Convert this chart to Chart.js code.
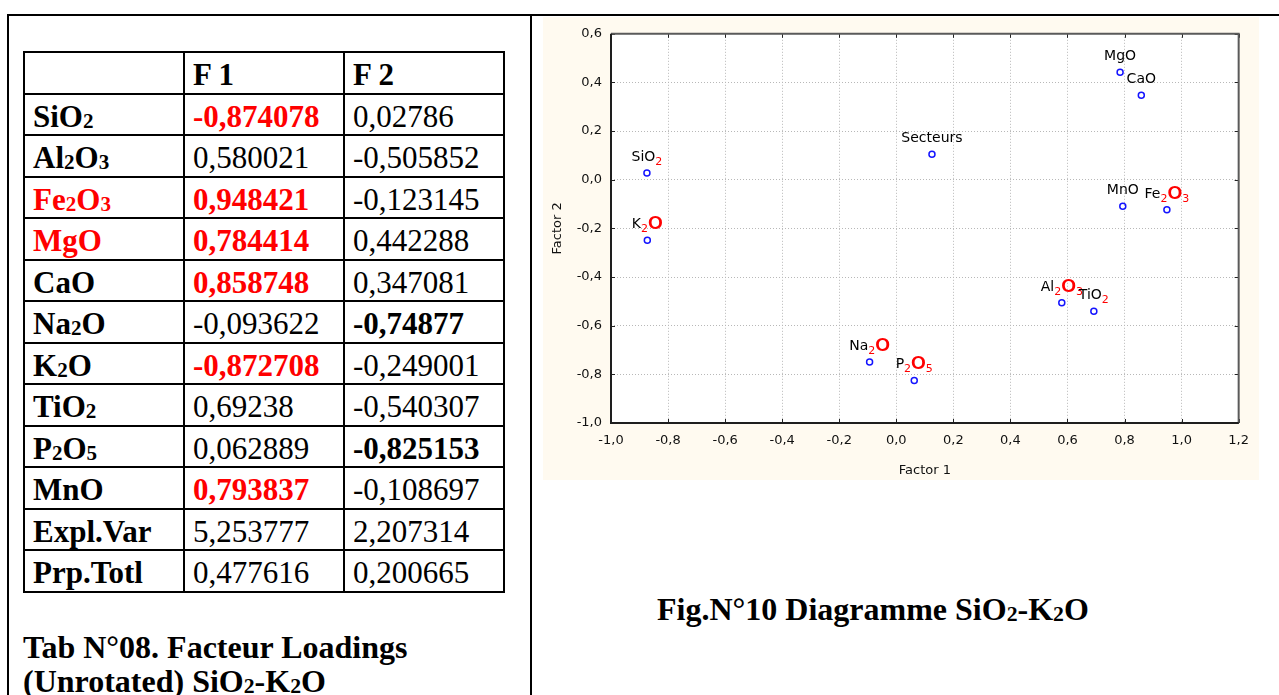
<!DOCTYPE html>
<html>
<head>
<meta charset="utf-8">
<script src="https://cdn.jsdelivr.net/npm/chart.js@4.4.0/dist/chart.umd.min.js"></script>
<style>
  html, body { margin: 0; padding: 0; background: #fff; width: 1279px; height: 695px; overflow: hidden; }
  .rule { position: absolute; background: #000; }
  #loadings {
    position: absolute; left: 23px; top: 51px;
    border-collapse: separate; border-spacing: 0; table-layout: fixed;
    border-top: 2px solid #000; border-left: 2px solid #000;
    font-family: "Liberation Serif", "Times New Roman", serif; font-size: 31px; color: #000;
  }
  #loadings td {
    box-sizing: border-box; width: 160px; height: 41.5px;
    border-right: 2px solid #000; border-bottom: 2px solid #000;
    padding: 5px 0 0 8px; line-height: 1.1; white-space: nowrap; vertical-align: middle;
  }
  #loadings td.name, #loadings td.head { font-weight: bold; }
  .b { font-weight: bold; }
  .r { color: #ff0000; }
  .sub { font-size: 0.68em; vertical-align: -0.06em; }
  .caption {
    position: absolute; font-family: "Liberation Serif", "Times New Roman", serif;
    font-weight: bold; font-size: 32px; line-height: 34px; color: #000; white-space: nowrap;
  }
  #plotBox { position: absolute; left: 543px; top: 17px; width: 716px; height: 463px; background: #FFFAF0; }
  #plotBox canvas { display: block; }
</style>
</head>
<body>
<div class="rule" style="left:7px;top:14px;width:1290px;height:2px"></div>
<div class="rule" style="left:7px;top:14px;width:2px;height:700px"></div>
<div class="rule" style="left:530px;top:14px;width:2px;height:700px"></div>

<table id="loadings"></table>
<div class="caption" style="left:23px;top:630px">Tab N°08. Facteur Loadings<br>(Unrotated) SiO<span class="sub">2</span>-K<span class="sub">2</span>O</div>

<div id="plotBox"><canvas id="chart" width="716" height="463"></canvas></div>
<div class="caption" style="left:657px;top:592px">Fig.N°10 Diagramme SiO<span class="sub">2</span>-K<span class="sub">2</span>O</div>

<script>
// Factor loadings (unrotated) of the major oxides
const oxides  = ['SiO2', 'Al2O3', 'Fe2O3', 'MgO', 'CaO', 'Na2O', 'K2O', 'TiO2', 'P2O5', 'MnO'];
const factor1 = [-0.874078, 0.580021, 0.948421, 0.784414, 0.858748, -0.093622, -0.872708, 0.69238, 0.062889, 0.793837];
const factor2 = [0.02786, -0.505852, -0.123145, 0.442288, 0.347081, -0.74877, -0.249001, -0.540307, -0.825153, -0.108697];
const explVar = [5.253777, 2.207314];
const prpTotl = [0.477616, 0.200665];
const headers = ['', 'F 1', 'F 2'];

// Supplementary variable projected on the factor plane
const sectorName = 'Secteurs';
const sectorF1 = 0.125;
const sectorF2 = 0.105;

// Axis tick values
const xTicks = [-1.0, -0.8, -0.6, -0.4, -0.2, 0.0, 0.2, 0.4, 0.6, 0.8, 1.0, 1.2];
const yTicks = [-1.0, -0.8, -0.6, -0.4, -0.2, 0.0, 0.2, 0.4, 0.6];

// Emphasis in the table
const strongF1 = ['SiO2', 'Fe2O3', 'MgO', 'CaO', 'K2O', 'MnO'];
const strongF2 = ['Na2O', 'P2O5'];
const strongNames = ['Fe2O3', 'MgO'];

const fmt = v => String(v).replace('.', ',');
const chem = name => name.replace(/(\d)/g, '<span class="sub">$1</span>');

// ---- table ----
(function buildTable() {
  const t = document.getElementById('loadings');
  let html = '<tr>' + headers.map(h => `<td class="head">${h}</td>`).join('') + '</tr>';
  oxides.forEach((ox, i) => {
    const nameCls = strongNames.includes(ox) ? 'name r' : 'name';
    const c1 = strongF1.includes(ox) ? 'b r' : '';
    const c2 = strongF2.includes(ox) ? 'b' : '';
    html += `<tr><td class="${nameCls}">${chem(ox)}</td><td class="${c1}">${fmt(factor1[i])}</td><td class="${c2}">${fmt(factor2[i])}</td></tr>`;
  });
  html += `<tr><td class="name">Expl.Var</td><td>${fmt(explVar[0])}</td><td>${fmt(explVar[1])}</td></tr>`;
  html += `<tr><td class="name">Prp.Totl</td><td>${fmt(prpTotl[0])}</td><td>${fmt(prpTotl[1])}</td></tr>`;
  t.innerHTML = html;
})();

// ---- chart ----
const pointNames = oxides.concat([sectorName]);
const xs = factor1.concat([sectorF1]);
const ys = factor2.concat([sectorF2]);

// split a formula into plain text, red subscripts and enlarged red oxygen
function labelParts(name) {
  const parts = [];
  let prevDigit = false;
  for (const ch of name) {
    if (/\d/.test(ch)) { parts.push({ t: ch, k: 'sub' }); prevDigit = true; }
    else if (ch === 'O' && prevDigit) { parts.push({ t: ch, k: 'big' }); prevDigit = false; }
    else {
      const last = parts[parts.length - 1];
      if (last && last.k === 'txt') last.t += ch; else parts.push({ t: ch, k: 'txt' });
      prevDigit = false;
    }
  }
  return parts;
}

const partStyle = {
  txt: { font: '14px "DejaVu Sans"', color: '#000', dy: 0 },
  sub: { font: '11px "DejaVu Sans"', color: '#ff0000', dy: 4 },
  big: { font: 'bold 19px "Liberation Sans"', color: '#ff0000', dy: 1 }
};

const tickLabel = v => {
  const r = Math.abs(v) < 1e-9 ? 0 : v;
  return r.toFixed(1).replace('.', ',');
};

const framePlugin = {
  id: 'frame',
  beforeDraw(chart) {
    const { ctx, chartArea: a } = chart;
    ctx.save();
    ctx.fillStyle = '#ffffff';
    ctx.fillRect(a.left, a.top, a.right - a.left, a.bottom - a.top);
    ctx.restore();
  },
  afterDatasetsDraw(chart) {
    const { ctx, chartArea: a, scales } = chart;
    ctx.save();
    // inward tick marks on all four sides
    ctx.strokeStyle = '#222';
    ctx.lineWidth = 1;
    ctx.beginPath();
    xTicks.forEach(v => {
      const px = Math.round(scales.x.getPixelForValue(v)) + 0.5;
      ctx.moveTo(px, a.bottom); ctx.lineTo(px, a.bottom - 4);
      ctx.moveTo(px, a.top); ctx.lineTo(px, a.top + 4);
    });
    yTicks.forEach(v => {
      const py = Math.round(scales.y.getPixelForValue(v)) + 0.5;
      ctx.moveTo(a.left, py); ctx.lineTo(a.left + 4, py);
      ctx.moveTo(a.right, py); ctx.lineTo(a.right - 4, py);
    });
    ctx.stroke();
    // frame
    ctx.lineWidth = 2;
    ctx.strokeStyle = '#5a5a5a';
    ctx.beginPath();
    ctx.moveTo(a.left, a.top); ctx.lineTo(a.right, a.top); ctx.lineTo(a.right, a.bottom);
    ctx.stroke();
    ctx.strokeStyle = '#1e1e1e';
    ctx.beginPath();
    ctx.moveTo(a.left, a.top); ctx.lineTo(a.left, a.bottom); ctx.lineTo(a.right, a.bottom);
    ctx.stroke();

    // point labels, centred above each marker
    const meta = chart.getDatasetMeta(0);
    ctx.textBaseline = 'alphabetic';
    ctx.textAlign = 'left';
    meta.data.forEach((pt, i) => {
      const parts = labelParts(pointNames[i]);
      let total = 0;
      parts.forEach(p => { ctx.font = partStyle[p.k].font; p.w = ctx.measureText(p.t).width; total += p.w; });
      let x = pt.x - total / 2;
      const base = pt.y - 12;
      parts.forEach(p => {
        const s = partStyle[p.k];
        ctx.font = s.font;
        ctx.fillStyle = s.color;
        ctx.fillText(p.t, x, base + s.dy);
        x += p.w;
      });
    });
    ctx.restore();
  }
};

Chart.defaults.font.family = '"DejaVu Sans", "Liberation Sans", sans-serif';

new Chart(document.getElementById('chart'), {
  type: 'scatter',
  data: {
    datasets: [{
      data: xs.map((x, i) => ({ x: x, y: ys[i] })),
      pointRadius: 3,
      pointBorderWidth: 1.5,
      borderColor: '#1414ff',
      backgroundColor: 'rgba(0,0,0,0)',
      pointHoverRadius: 3
    }]
  },
  options: {
    responsive: false,
    animation: false,
    events: [],
    layout: { padding: { top: 12, right: 18, left: 0, bottom: 0 } },
    plugins: { legend: { display: false }, tooltip: { enabled: false } },
    scales: {
      x: {
        type: 'linear', min: -1.0, max: 1.2,
        afterBuildTicks: s => { s.ticks = xTicks.map(v => ({ value: v })); },
        afterFit: s => { s.height = 57; },
        grid: { color: '#b8b8b8', lineWidth: 1, drawTicks: false },
        border: { display: false, dash: [1, 2] },
        ticks: { padding: 10, color: '#111', font: { size: 13 }, maxRotation: 0, autoSkip: false, callback: tickLabel },
        title: { display: true, text: 'Factor 1', color: '#111', font: { size: 13 }, padding: { top: 0, bottom: 2 } }
      },
      y: {
        type: 'linear', min: -1.0, max: 0.6,
        afterBuildTicks: s => { s.ticks = yTicks.map(v => ({ value: v })); },
        afterFit: s => { s.width = 68; },
        grid: { color: '#b8b8b8', lineWidth: 1, drawTicks: false },
        border: { display: false, dash: [1, 2] },
        ticks: { padding: 9, color: '#111', font: { size: 13 }, autoSkip: false, callback: tickLabel },
        title: { display: true, text: 'Factor 2', color: '#111', font: { size: 13 }, padding: { top: 7, bottom: 0 } }
      }
    }
  },
  plugins: [framePlugin]
});
</script>
</body>
</html>
